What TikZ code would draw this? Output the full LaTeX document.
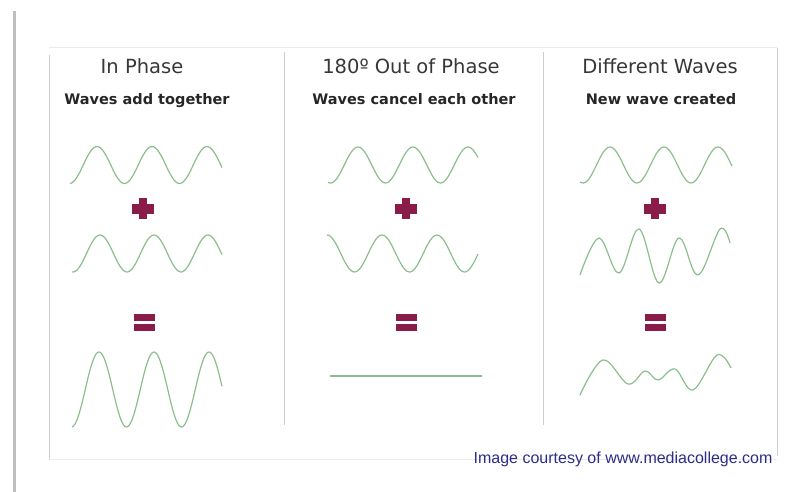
\documentclass[tikz,border=0pt]{standalone}
\usepackage{fontspec}
\setmainfont{DejaVu Sans}
\newfontfamily\creditfont{Liberation Sans}
\definecolor{wavegreen}{RGB}{140,190,140}
\definecolor{signred}{RGB}{138,28,74}
\definecolor{framegray}{RGB}{205,205,205}
\definecolor{titlegray}{RGB}{55,55,55}
\definecolor{creditblue}{RGB}{45,45,135}

\begin{document}
\begin{tikzpicture}[x=1pt,y=-1pt,
  wave/.style={wavegreen, line width=1.2pt},
  sign/.style={fill=signred},
  frameline/.style={framegray, line width=1pt},
  title/.style={anchor=base, text=titlegray, font=\fontsize{19.5}{22}\selectfont},
  subtitle/.style={anchor=base, text=black!85, font=\fontsize{14.5}{17}\selectfont\bfseries}]

\useasboundingbox (0,0) rectangle (801,492);

% Shadow at the left
\draw[black!25, line width=3pt] (14,11) -- (14,492);

% Panel frame
\draw[black!8, line width=1pt] (49,48) -- (777,48);
\draw[frameline] (49,55) -- (49,459);
\draw[frameline] (777,48) -- (777,456);
\draw[black!8, line width=1pt] (49,459) -- (777,459);

% Dividers
\draw[frameline] (284,52) -- (284,425);
\draw[frameline] (543,52) -- (543,425);

% Titles
\node[title] (inphase) at (142,74) {In Phase};
\node[title] (outphase) at (411,74) {180º Out of Phase};
\node[title] (different) at (660,74) {Different Waves};

% Subtitles
\node[subtitle] (addtext) at (147,105) {Waves add together};
\node[subtitle] (canceltext) at (414,105) {Waves cancel each other};
\node[subtitle] (newtext) at (661,105) {New wave created};

% In phase waves
\draw[wave] plot[domain=70:222, samples=90] (\x, {165 - 18.5*sin((\x-83.25)/55*360)});
\draw[wave] plot[domain=72:222, samples=90] (\x, {253.5 - 18.5*sin((\x-86.5)/54*360)});
\draw[wave] plot[domain=72:222, samples=120] (\x, {389.5 - 37.5*sin((\x-85.25)/55*360)});

% Out of phase waves
\draw[wave] plot[domain=328:478, samples=90] (\x, {165 - 18*sin((\x-344.25)/55*360)});
\draw[wave] plot[domain=327:478, samples=90] (\x, {253.5 - 18.5*sin((\x-313.25)/55*360)});
\draw[wave, line width=1.8pt] (330,376) -- (482,376);

% Different waves
\draw[wave] plot[domain=580:732, samples=90] (\x, {165 - 18*sin((\x-596.5)/54*360)});
\draw[wave] plot[smooth, tension=0.6] coordinates {(580,275) (599,238) (619,273) (639,229)
  (659,283) (679,238) (698,275) (720,229) (730,243)};
\draw[wave] plot[smooth, tension=0.6] coordinates {(580,395) (603,360) (628,384) (645,371)
  (658,380) (675,369) (693,390) (717,355) (731,368)};

% Plus signs
\foreach \cx in {143,406,655} {
  \fill[sign] (\cx-11,204.5) rectangle (\cx+11,213.5);
  \fill[sign] (\cx-4,198) rectangle (\cx+4,219);
}

% Equals signs
\foreach \cx in {144,406,655} {
  \fill[sign] (\cx-10.5,313.5) rectangle (\cx+10.5,320.5);
  \fill[sign] (\cx-10.5,323.5) rectangle (\cx+10.5,330.5);
}

% Credit
\node[anchor=base east, text=creditblue, font=\creditfont\fontsize{16}{19}\selectfont]
  (credit) at (776,463) {Image courtesy of www.mediacollege.com};

\end{tikzpicture}
\end{document}
